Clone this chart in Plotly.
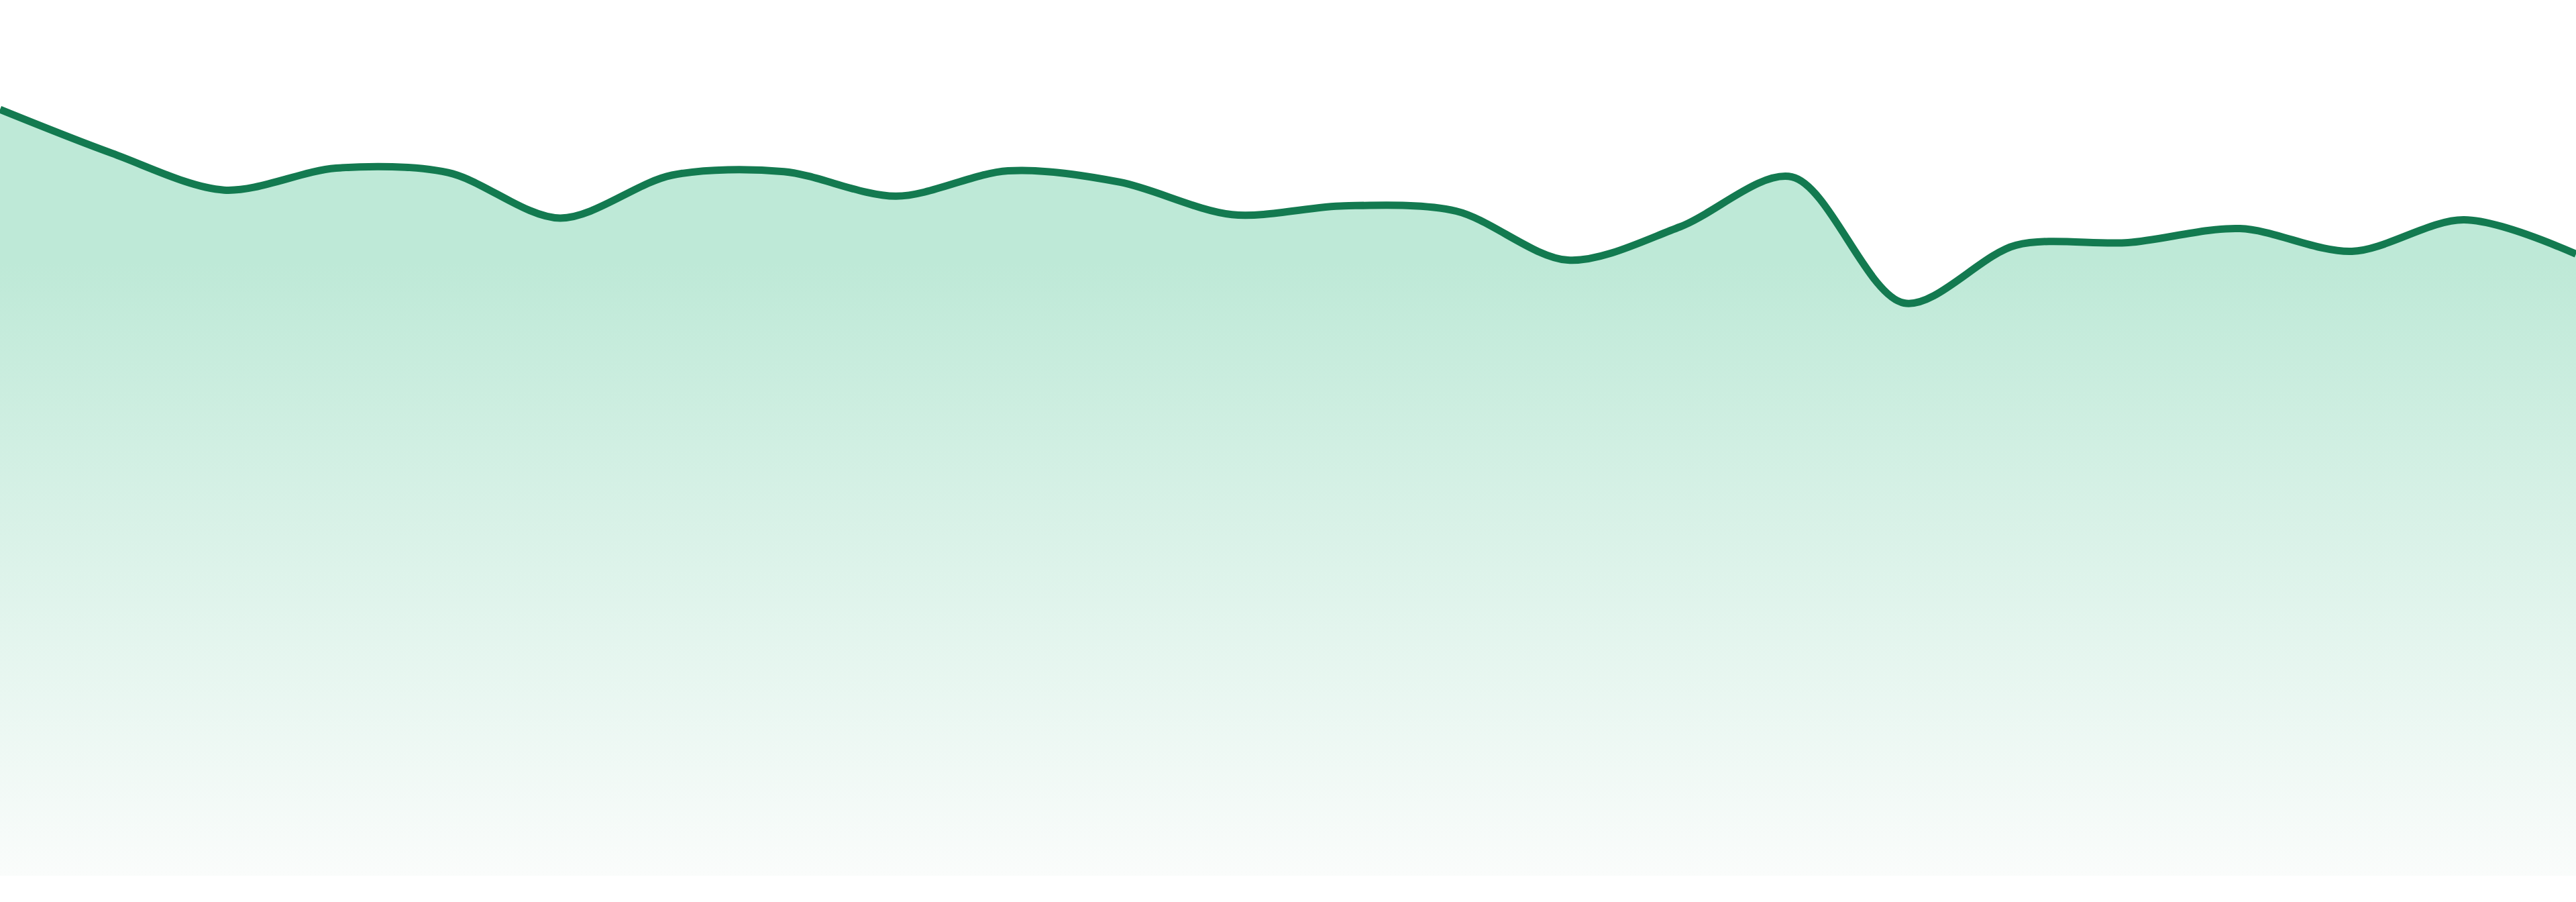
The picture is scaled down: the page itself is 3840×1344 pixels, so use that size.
import plotly.graph_objects as go

# 24 evenly spaced readings (hidden category axis)
periods = [f"P{i + 1:02d}" for i in range(24)]
values = [87.5, 82.5, 78.3, 80.8, 80.3, 75.1, 80.0, 80.4, 77.6, 80.5, 79.2, 75.5,
          76.5, 75.9, 70.3, 74.1, 79.8, 65.4, 72.0, 72.3, 73.9, 71.3, 74.9, 71.0]

line_colour = "#137a50"

fig = go.Figure()

fig.add_scatter(x=periods,
                y=values,
                mode="lines",
                line=dict(color=line_colour, width=11, shape="spline", smoothing=0.9),
                fill="tozeroy",
                fillgradient=dict(type="vertical",
                                  start=0,
                                  stop=100,
                                  colorscale=[[0.0, "rgb(250,252,251)"],
                                              [0.35, "rgb(221,243,234)"],
                                              [0.7, "rgb(190,233,215)"],
                                              [1.0, "rgb(190,233,215)"]]),
                hoverinfo="skip",
                showlegend=False)

fig.update_layout(width=3840,
                  height=1344,
                  paper_bgcolor="white",
                  plot_bgcolor="white",
                  margin=dict(l=0, r=0, t=0, b=39),
                  xaxis=dict(visible=False, range=[0, len(periods) - 1]),
                  yaxis=dict(visible=False, range=[0, 100]),
                  modebar=dict(bgcolor="rgba(0,0,0,0)",
                               color="rgba(0,0,0,0)",
                               activecolor="rgba(0,0,0,0)"))

# drop the default body margin and make the plotly logo transparent
page_fix = ("document.body.style.margin='0';"
            "document.body.style.overflow='hidden';"
            "var s=document.createElement('style');"
            "s.innerHTML='.modebar-btn--logo{opacity:0 !important;}';"
            "document.head.appendChild(s);")

fig.write_html("out.html", post_script=page_fix)
